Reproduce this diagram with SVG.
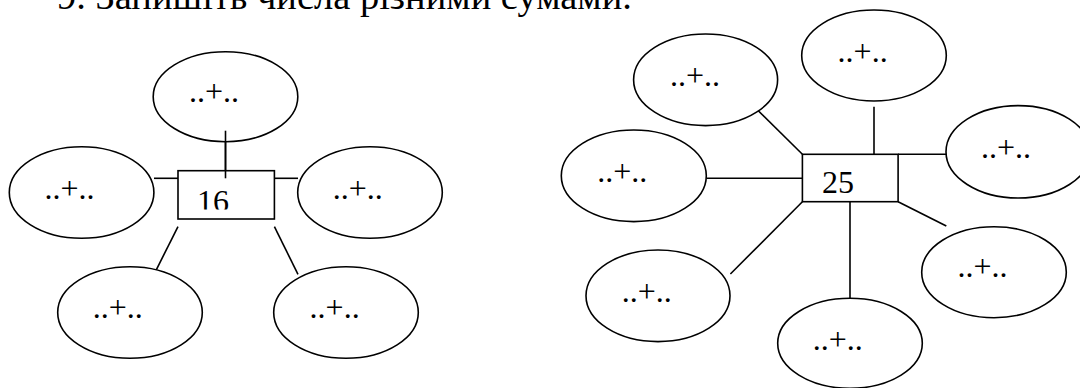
<svg xmlns="http://www.w3.org/2000/svg" width="1080" height="388" viewBox="0 0 1080 388" font-family="Liberation Serif, serif">
<style>
.e{fill:#fff;stroke:#000;stroke-width:1.6}
.b{fill:#fff;stroke:#000;stroke-width:1.6}
.c line{stroke:#000;stroke-width:1.6}
.t{font-size:32px;fill:#000}
.h{font-size:38.5px;fill:#000}
</style>
<defs>
<clipPath id="clip16"><rect x="178" y="171" width="96" height="38.5"/></clipPath>
</defs>
<rect width="1080" height="388" fill="#fff"/>
<text class="h" x="57" y="8.5" font-family="Liberation Serif, serif">9. Запишіть числа різними сумами.</text>

<g id="connectors-16" class="c">
<line x1="225.5" y1="130.7" x2="225.5" y2="178.3"/>
<line x1="154" y1="178.3" x2="178" y2="178.3"/>
<line x1="274.4" y1="178.3" x2="298" y2="178.3"/>
<line x1="178" y1="226.7" x2="154" y2="274.3"/>
<line x1="274.4" y1="226.7" x2="298" y2="274.3"/>
</g>

<g id="n16-top"><ellipse class="e" cx="225.5" cy="96.7" rx="72.3" ry="45"/><text class="t" x="189" y="101.7" font-family="Liberation Serif, serif">..+..</text></g>
<g id="n16-left"><ellipse class="e" cx="81.6" cy="192.5" rx="72.3" ry="45.8"/><text class="t" x="44.5" y="199.3" font-family="Liberation Serif, serif">..+..</text></g>
<g id="n16-right"><ellipse class="e" cx="370" cy="192.5" rx="72.3" ry="45.8"/><text class="t" x="332.7" y="199.3" font-family="Liberation Serif, serif">..+..</text></g>
<g id="n16-bl"><ellipse class="e" cx="130" cy="312.5" rx="72.3" ry="45.8"/><text class="t" x="92.7" y="318.3" font-family="Liberation Serif, serif">..+..</text></g>
<g id="n16-br"><ellipse class="e" cx="346" cy="312.5" rx="72.3" ry="45.8"/><text class="t" x="309.6" y="318.3" font-family="Liberation Serif, serif">..+..</text></g>
<line x1="225.5" y1="130.7" x2="225.5" y2="171" stroke="#000" stroke-width="1.6"/>
<g id="box16"><rect class="b" x="178" y="170.7" width="96.4" height="48.3"/><line x1="225.5" y1="170.7" x2="225.5" y2="178.3" stroke="#000" stroke-width="1.6"/><text class="t" x="197" y="211.5" clip-path="url(#clip16)" font-family="Liberation Serif, serif">16</text></g>

<g id="connectors-25" class="c">
<line x1="754.2" y1="106.7" x2="802.4" y2="154.3"/>
<line x1="874" y1="106.7" x2="874" y2="154.3"/>
<line x1="898.1" y1="154.3" x2="946" y2="154.3"/>
<line x1="706.3" y1="178.3" x2="802.4" y2="178.3"/>
<line x1="802.4" y1="201.7" x2="730.4" y2="274"/>
<line x1="850" y1="201.7" x2="850" y2="298.3"/>
<line x1="898.1" y1="201.7" x2="946.3" y2="226"/>
</g>

<g id="n25-tl"><ellipse class="e" cx="705.6" cy="79.8" rx="72" ry="45.8"/><text class="t" x="670" y="86" font-family="Liberation Serif, serif">..+..</text></g>
<g id="n25-top"><ellipse class="e" cx="874" cy="55.5" rx="72.3" ry="45.5"/><text class="t" x="837.6" y="61.7" font-family="Liberation Serif, serif">..+..</text></g>
<g id="n25-right"><ellipse class="e" cx="1018.3" cy="151.8" rx="72.3" ry="46.2"/><text class="t" x="981" y="158" font-family="Liberation Serif, serif">..+..</text></g>
<g id="n25-left"><ellipse class="e" cx="633.8" cy="175.8" rx="72.5" ry="45.8"/><text class="t" x="597.2" y="181.7" font-family="Liberation Serif, serif">..+..</text></g>
<g id="n25-bl"><ellipse class="e" cx="658" cy="295.8" rx="72" ry="45.8"/><text class="t" x="621.7" y="301.7" font-family="Liberation Serif, serif">..+..</text></g>
<g id="n25-bottom"><ellipse class="e" cx="850" cy="343.3" rx="72.3" ry="45"/><text class="t" x="812.8" y="350" font-family="Liberation Serif, serif">..+..</text></g>
<g id="n25-br"><ellipse class="e" cx="994" cy="272.2" rx="72.3" ry="45.5"/><text class="t" x="957.4" y="276.7" font-family="Liberation Serif, serif">..+..</text></g>
<g id="box25"><rect class="b" x="802.4" y="154.3" width="95.7" height="47.4"/><text class="t" x="822" y="193.3" font-family="Liberation Serif, serif">25</text></g>
</svg>
